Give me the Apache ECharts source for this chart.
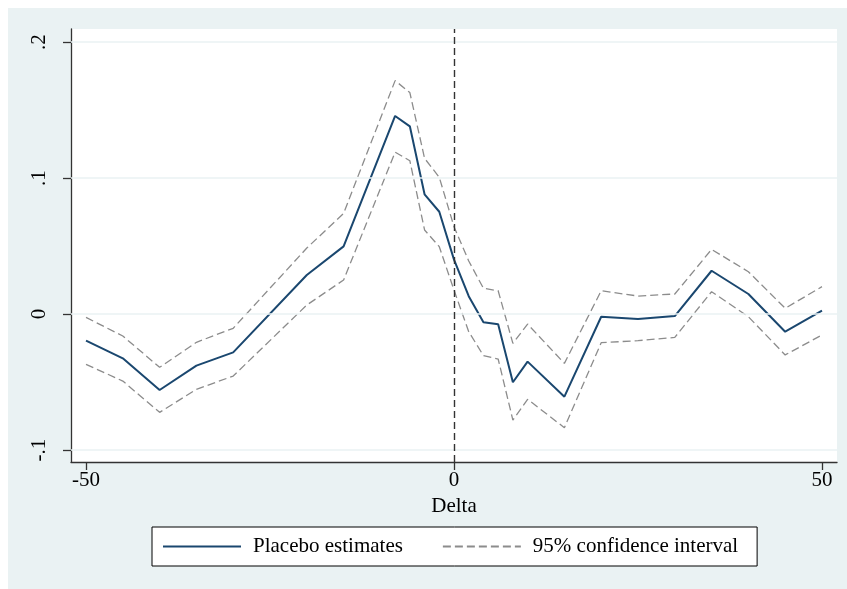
<!DOCTYPE html>
<html>
<head>
<meta charset="utf-8">
<script src="https://cdn.jsdelivr.net/npm/echarts@6/dist/echarts.min.js"></script>
<style>
html,body{margin:0;padding:0;background:#ffffff;}
#chart{width:847px;height:589px;}
</style>
</head>
<body>
<div id="chart"></div>
<script>
const delta = [-50,-45,-40,-35,-30,-20,-15,-8,-6,-4,-2,0,2,4,6,8,10,15,20,25,30,35,40,45,50];
const estimates = [-0.0196,-0.0326,-0.0559,-0.038,-0.0282,0.0287,0.0497,0.1456,0.138,0.088,0.0752,0.040,0.0131,-0.0061,-0.0076,-0.0502,-0.035,-0.0608,-0.002,-0.0037,-0.0015,0.0318,0.0147,-0.013,0.0024];
const upperCI = [-0.0025,-0.0162,-0.0392,-0.0208,-0.0105,0.0485,0.074,0.1716,0.1628,0.1145,0.1005,0.0642,0.039,0.0189,0.0171,-0.0216,-0.0074,-0.0363,0.0171,0.0132,0.0147,0.0475,0.0311,0.0042,0.0201];
const lowerCI = [-0.037,-0.0493,-0.0723,-0.0554,-0.0456,0.0066,0.025,0.119,0.1127,0.0618,0.0495,0.0176,-0.013,-0.0306,-0.0331,-0.078,-0.0627,-0.0836,-0.0211,-0.0196,-0.0172,0.0164,-0.002,-0.0301,-0.0154];
const xTicks = [-50, 0, 50];
const yTicks = [-0.1, 0, 0.1, 0.2];
const yTickLabels = {'-0.1': '-.1', '0': '0', '0.1': '.1', '0.2': '.2'};
const seriesNames = ['Placebo estimates', '95% confidence interval'];
const xTitle = 'Delta';

const FONT = '"Liberation Serif", "DejaVu Serif", serif';
const FS = 21;
const chart = echarts.init(document.getElementById('chart'), null, {renderer: 'canvas'});
const pairs = arr => delta.map((d, i) => [d, arr[i]]);

chart.setOption({
  animation: false,
  backgroundColor: '#ffffff',
  graphic: [{
    type: 'rect', z: -10, silent: true,
    shape: {x: 8, y: 8, width: 839, height: 581},
    style: {fill: '#eaf2f3'}
  }],
  grid: {left: 71, right: 10, top: 29, bottom: 127, show: true, backgroundColor: '#ffffff', borderWidth: 0},
  xAxis: {
    type: 'value', min: -52.04, max: 52.04,
    name: xTitle, nameLocation: 'middle', nameGap: 30,
    nameTextStyle: {fontFamily: FONT, fontSize: FS, color: '#000'},
    axisLine: {show: true, onZero: false, lineStyle: {color: '#333', width: 1.3}},
    axisTick: {show: true, length: 8, customValues: xTicks, lineStyle: {color: '#333', width: 1.3}},
    axisLabel: {show: true, customValues: xTicks, margin: 8, fontFamily: FONT, fontSize: FS, color: '#000'},
    splitLine: {show: false}
  },
  yAxis: {
    type: 'value', min: -0.10882, max: 0.20956,
    axisLine: {show: true, onZero: false, lineStyle: {color: '#333', width: 1.3}},
    axisTick: {show: true, length: 8, customValues: yTicks, lineStyle: {color: '#333', width: 1.3}},
    axisLabel: {show: true, customValues: yTicks, rotate: 90, margin: 21, fontFamily: FONT, fontSize: FS, color: '#000',
      formatter: v => yTickLabels[String(Math.round(v * 10) / 10)] ?? String(v)},
    splitLine: {show: false}
  },
  legend: {
    left: 152, top: 527,
    padding: [9, 19, 9, 10],
    borderColor: '#000', borderWidth: 1, backgroundColor: '#ffffff',
    itemWidth: 78, itemHeight: 22, itemGap: 39,
    itemStyle: {opacity: 0},
    textStyle: {fontFamily: FONT, fontSize: FS, color: '#000', padding: [0, 0, 0, 7]},
    data: seriesNames
  },
  series: [
    {
      type: 'line', name: 'gridlines', silent: true, data: [], symbol: 'none',
      markLine: {
        silent: true, symbol: 'none', label: {show: false},
        lineStyle: {color: '#eaf2f3', width: 1.6, type: 'solid'},
        data: yTicks.map(v => ({yAxis: v}))
      },
      z: 1
    },
    {
      type: 'line', name: seriesNames[1], data: pairs(upperCI), symbol: 'none',
      lineStyle: {color: '#8c8c8c', width: 1.3, type: [8, 4]}, itemStyle: {color: '#8c8c8c'}, z: 3
    },
    {
      type: 'line', name: seriesNames[1], data: pairs(lowerCI), symbol: 'none',
      lineStyle: {color: '#8c8c8c', width: 1.3, type: [8, 4]}, itemStyle: {color: '#8c8c8c'}, z: 3
    },
    {
      type: 'line', name: seriesNames[0], data: pairs(estimates), symbol: 'none',
      lineStyle: {color: '#1a476f', width: 2}, itemStyle: {color: '#1a476f'}, z: 4,
      markLine: {
        silent: true, symbol: 'none', label: {show: false},
        lineStyle: {color: '#333', width: 1.4, type: [7, 4]},
        data: [{xAxis: 0}]
      }
    }
  ]
});
</script>
</body>
</html>
